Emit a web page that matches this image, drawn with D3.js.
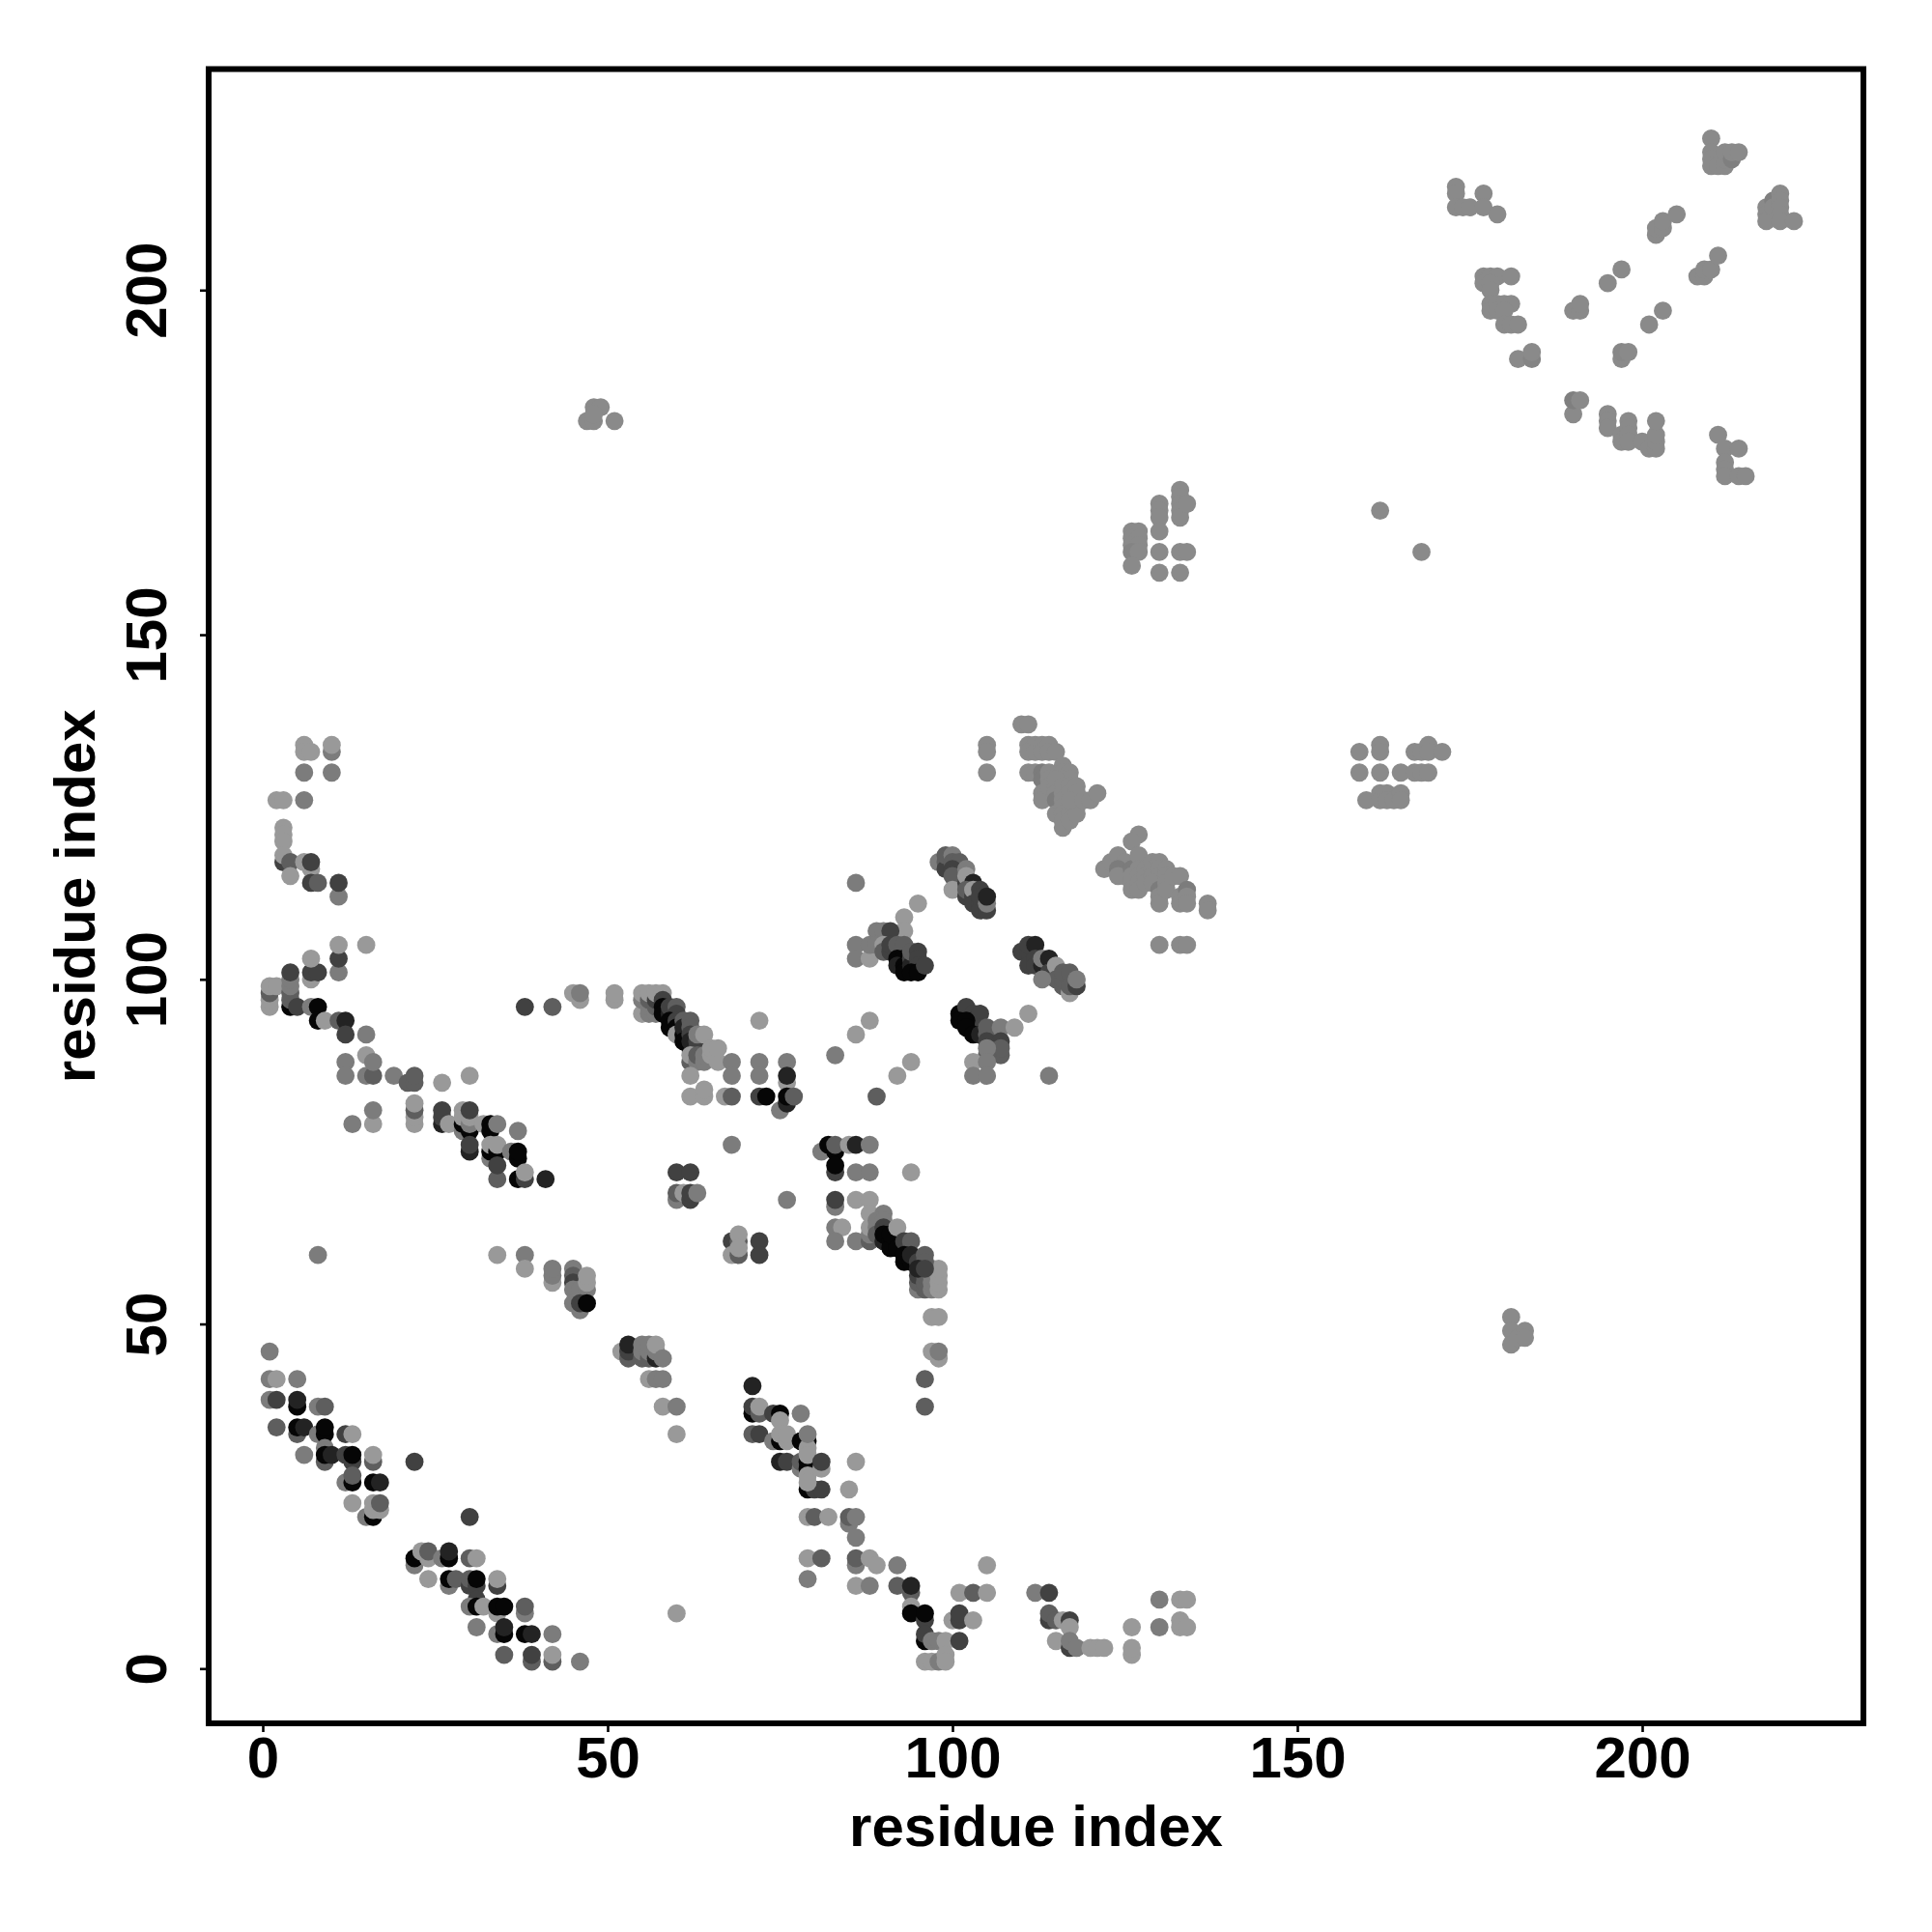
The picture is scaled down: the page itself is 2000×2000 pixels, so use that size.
<!DOCTYPE html>
<html><head><meta charset="utf-8">
<script src="https://cdn.jsdelivr.net/npm/d3@7"></script>
<style>html,body{margin:0;background:#fff}svg{display:block}</style></head>
<body><svg id="c" width="2000" height="2000"></svg>
<script>
// Each contact: [residue i, residue j, strength 0 (faint) .. 5 (strong)]
const helixLowA = [[1,46,1],[1,42,1],[2,42,0],[5,42,1],[1,39,1],[2,39,3],[5,38,5],[5,39,4],[8,38,1],[9,38,2],[2,35,2],[5,34,2],[5,35,5],[6,35,4],[8,34,1],[9,34,5],[9,35,5],[12,34,3],[13,34,0],[9,32,1],[6,31,1],[9,30,2],[9,31,5],[10,31,4],[12,31,3],[13,30,3],[13,31,5],[16,30,2],[16,31,0],[22,30,3],[12,27,1],[13,27,5],[13,28,2],[16,27,5],[17,27,4],[13,24,0],[15,22,1],[16,22,5],[16,23,0],[17,23,0],[16,24,0],[17,24,2],[30,22,3]];
const helixLowB = [[22,15,1],[22,16,5],[23,17,0],[24,16,0],[24,17,2],[24,13,0],[26,16,1],[27,16,5],[27,17,4],[30,16,2],[31,16,0],[27,12,1],[27,13,5],[28,13,2],[30,12,3],[30,13,2],[31,12,3],[31,13,5],[31,10,3],[30,9,1],[31,9,5],[32,9,0],[34,12,3],[34,13,0],[34,8,0],[34,9,5],[35,9,5],[38,8,1],[38,9,2],[31,6,1],[34,5,1],[35,5,5],[35,6,4],[38,5,5],[39,5,4],[42,5,1],[35,2,2],[39,1,2],[39,2,3],[42,1,2],[42,2,0],[46,1,1]];
const bandMid = [[8,60,1],[34,60,0],[38,60,1],[38,58,0],[42,56,0],[42,57,1],[42,58,1],[45,58,1],[45,57,2],[45,56,3],[45,55,1],[46,55,1],[47,55,1],[47,56,0],[47,57,0],[45,53,1],[46,52,1],[46,53,3],[47,53,5],[52,46,0],[53,45,2],[53,46,3],[53,47,4],[55,45,2],[55,46,1],[55,47,1],[56,45,2],[56,46,1],[56,47,1],[57,45,4],[57,46,1],[57,47,0],[58,45,1],[56,42,0],[57,42,1],[58,42,1],[58,38,0],[60,38,1],[60,34,0],[60,8,0]];
const islandB = [[68,62,3],[69,62,2],[69,63,0],[68,60,0],[69,60,2],[69,61,0],[72,62,3],[72,60,3],[60,72,3],[62,72,3],[60,68,1],[60,69,2],[61,69,0],[62,68,3],[62,69,3],[63,69,1],[68,76,1],[76,68,1]];
const sheetC = [[71,41,4],[71,37,5],[71,38,3],[72,37,2],[72,38,0],[74,37,3],[75,37,5],[75,36,0],[78,37,1],[71,34,2],[72,34,3],[74,33,1],[75,33,5],[75,34,0],[76,33,0],[76,34,0],[78,33,5],[79,33,5],[79,32,0],[79,34,1],[75,30,4],[76,30,3],[78,29,1],[78,30,2],[79,29,5],[79,30,5],[79,31,0],[79,28,0],[81,29,0],[81,30,3],[86,30,0],[79,26,5],[80,26,3],[81,26,3],[79,27,0],[85,26,0],[79,22,0],[80,22,2],[82,22,0],[85,21,1],[85,22,2],[86,22,1],[86,19,1],[79,16,0],[81,16,2],[79,13,1],[86,15,1],[86,16,2],[88,16,0],[89,15,0],[92,15,1],[86,12,0],[88,12,1],[92,12,2],[94,11,2],[94,12,4],[94,9,0],[94,8,5],[96,7,3],[96,8,5],[96,4,5],[96,5,3],[97,4,1],[98,4,1],[99,4,0],[101,4,3],[96,1,0],[97,1,0],[98,1,1],[99,2,0],[99,1,0],[101,11,0],[103,11,2],[105,11,0],[105,15,0],[100,7,0],[101,7,3],[101,8,3],[103,7,0],[112,11,1],[114,11,3],[114,7,3],[114,8,2],[115,7,2],[116,7,0],[117,7,3],[117,6,0],[115,4,0],[117,3,3],[117,4,1],[118,3,1],[120,3,0],[121,3,0],[122,3,0],[126,6,0],[126,2,0],[126,3,0],[130,10,1],[130,6,1],[133,10,0],[134,10,0],[133,7,0],[133,6,0],[134,6,0]];
const columnD = [[95,55,1],[95,56,2],[95,57,3],[96,55,2],[96,56,2],[96,57,2],[97,55,1],[97,56,1],[97,57,1],[97,58,1],[98,55,0],[98,56,0],[98,57,0],[98,58,0],[97,51,0],[98,51,0],[97,46,0],[98,45,0],[98,46,1],[96,42,2],[96,38,2]];
const topLeftE = [[6,134,0],[6,133,0],[7,133,0],[10,133,1],[10,134,0],[6,130,1],[10,130,1],[2,126,0],[3,126,0],[6,126,1],[3,122,0],[3,121,0],[3,120,0],[3,117,3],[3,118,0],[4,117,2],[4,115,0],[6,117,0],[7,116,0],[7,117,3],[7,114,3],[8,114,2],[11,112,1],[11,114,3]];
const leftF = [[1,96,0],[1,97,0],[1,98,2],[1,99,0],[2,99,0],[4,96,5],[4,97,2],[4,98,2],[4,99,1],[4,100,1],[4,101,3],[5,96,3],[7,100,0],[7,101,3],[8,101,3],[7,103,0],[11,101,1],[11,103,3],[11,105,0],[15,105,0],[7,96,1],[8,96,5],[8,94,5],[9,94,0],[11,94,2],[12,94,4],[12,92,3],[15,92,1],[12,88,1],[12,86,1],[15,86,1],[15,89,0],[16,86,2],[16,88,1],[19,86,1],[21,85,2],[22,85,2],[22,86,2],[26,85,0],[30,86,0]];
const sheetG = [[13,79,1],[16,79,0],[16,81,1],[22,79,0],[22,80,0],[22,81,2],[22,82,0],[26,79,4],[26,80,3],[26,81,3],[27,79,0],[29,78,1],[29,79,5],[29,80,0],[29,81,0],[30,78,5],[30,79,1],[30,80,0],[30,81,3],[30,75,4],[30,76,3],[32,79,0],[33,79,5],[33,78,5],[34,79,1],[37,78,1],[33,74,1],[33,75,5],[33,76,0],[34,75,5],[34,76,0],[36,75,1],[37,74,5],[37,75,5],[34,71,2],[34,73,3],[37,71,5],[38,71,3],[38,72,0],[41,71,4]];
const diagH = [[38,96,3],[42,96,2],[45,98,0],[46,97,0],[46,98,1],[51,97,0],[51,98,0]];
const strandI = [[55,95,0],[55,97,1],[55,98,0],[56,95,1],[56,96,1],[56,97,2],[56,98,0],[57,95,1],[57,96,2],[57,97,3],[57,98,0],[58,98,0],[58,97,3],[58,96,5],[58,95,5],[59,95,4],[59,96,3],[60,96,2],[60,95,3],[59,94,5],[59,93,5],[60,94,3],[60,93,5],[60,92,0],[61,92,5],[61,94,2],[61,93,4],[61,91,5],[62,90,5],[62,94,2],[62,93,2],[62,92,3],[62,91,4],[63,90,3],[63,91,3],[63,92,1],[64,92,0],[62,88,2],[62,89,0],[63,88,1],[63,89,2],[64,88,1],[64,89,1],[65,89,0],[65,90,0],[66,88,0],[66,90,0],[68,88,1],[68,86,1],[62,86,0],[62,83,0],[64,83,0],[64,84,0],[67,83,0],[68,83,2],[72,94,0],[72,88,1],[72,86,1],[72,83,3],[73,83,5],[76,88,1],[76,85,0],[76,86,4],[75,81,1],[76,82,4],[76,83,5],[77,83,2],[83,89,1],[86,92,0],[88,94,0],[89,83,2],[92,86,0],[94,88,0]];
const strandJ = [[81,75,1],[82,76,5],[83,75,5],[83,76,2],[85,76,0],[86,76,4],[88,76,1],[83,72,3],[83,73,5],[86,72,1],[88,72,1],[94,72,0],[83,67,1],[83,68,3],[86,68,0],[88,68,0],[83,64,1],[84,64,0],[83,62,1],[86,62,1],[88,66,0],[90,66,1],[88,62,2],[88,63,1],[88,64,0],[89,65,1],[89,64,1],[89,63,2],[90,65,1],[90,64,3],[90,62,4],[90,63,5],[91,62,5],[91,61,5],[91,63,5],[92,61,5],[92,64,0],[93,62,3],[94,62,2],[93,59,5],[93,60,5],[94,59,5],[94,60,4],[95,59,3],[96,60,2],[96,59,2],[95,58,4],[96,58,3]];
const clusterK = [[86,114,1],[95,111,0],[93,109,0],[93,107,0],[89,107,1],[90,107,1],[91,107,3],[86,105,1],[86,103,1],[88,103,0],[88,105,1],[89,105,1],[90,105,0],[90,104,2],[91,104,3],[91,105,3],[92,104,3],[92,105,2],[93,105,2],[92,103,5],[93,103,5],[92,102,4],[93,102,5],[93,101,5],[94,103,3],[94,102,4],[94,104,2],[95,104,3],[95,103,3],[95,102,3],[94,101,5],[95,101,5],[96,102,3]];
const clusterL = [[98,117,1],[99,117,2],[99,116,3],[99,118,2],[100,118,1],[100,117,2],[101,117,2],[101,116,2],[101,115,3],[100,116,3],[100,115,2],[100,113,0],[102,116,1],[102,114,3],[102,115,0],[103,114,4],[102,112,3],[102,113,2],[103,112,3],[103,113,0],[103,111,3],[104,111,3],[104,110,3],[104,113,3],[104,112,3],[105,110,3],[105,111,1],[105,112,4]];
const clusterM = [[110,104,3],[111,104,3],[111,105,3],[112,105,4],[111,102,3],[112,103,3],[112,102,3],[113,102,4],[113,103,1],[114,103,4],[114,101,3],[115,102,0],[115,100,2],[113,100,1],[116,99,2],[117,98,0],[116,100,2],[117,100,2],[117,99,2],[116,101,2],[117,101,2],[118,99,3],[118,100,1]];
const clusterN = [[101,95,5],[102,96,3],[103,95,3],[103,94,4],[104,95,3],[104,93,3],[101,94,5],[102,94,5],[102,93,5],[103,92,5],[104,92,4],[105,92,2],[105,93,2],[107,93,1],[109,93,0],[111,95,0],[105,91,3],[107,91,3],[107,89,2],[107,90,2],[105,89,2],[105,90,1],[103,88,0],[105,88,1],[103,86,1],[105,86,1],[114,86,1]];
const clusterO = [[110,137,0.5],[111,137,0.5],[105,134,0.5],[105,133,0.5],[105,130,0.5],[111,134,0.5],[112,134,0.5],[111,133,0.5],[112,133,0.5],[113,134,0.5],[113,133,0.5],[114,134,0.5],[114,133,0.5],[115,133,0.5],[111,130,0.5],[112,130,0.5],[113,130,1],[113,129,1],[113,127,0.5],[113,126,0.5],[114,130,0.5],[114,129,0.5],[114,128,0.5],[115,128,0.5],[116,131,0.5],[116,130,0.5],[117,130,0.5],[116,129,0.5],[117,129,0.5],[115,129,0.5],[115,127,0.5],[115,126,1],[115,124,0.5],[116,128,0.5],[116,127,0.5],[116,126,0.5],[117,128,0.5],[117,127,0.5],[118,128,0.5],[118,127,0.5],[116,125,0.5],[116,124,0.5],[116,123,0.5],[116,122,0.5],[117,125,0.5],[117,124,0.5],[117,123,0.5],[118,125,0.5],[118,124,0.5],[117,126,0.5],[119,126,0.5],[120,126,0.5],[121,127,0.5]];
const clusterP = [[127,121,0.5],[126,120,0.5],[122,116,0.5],[123,117,0.5],[124,118,0.5],[125,117,0.5],[125,116,0.5],[125,115,0.5],[124,116,1],[124,115,0.5],[126,116,1],[126,115,0.5],[126,114,0.5],[126,113,0.5],[127,118,0.5],[127,116,0.5],[127,115,0.5],[127,114,0.5],[127,113,0.5],[128,116,0.5],[128,115,0.5],[128,114,0.5],[129,117,0.5],[129,116,0.5],[129,115,0.5],[130,117,0.5],[130,116,0.5],[130,115,0.5],[129,114,0.5],[130,113,1],[130,112,0.5],[130,111,0.5],[131,116,0.5],[131,115,0.5],[131,114,0.5],[131,113,0.5],[132,115,0.5],[133,115,0.5],[133,112,0.5],[133,111,0.5],[134,113,1],[134,112,0.5],[134,111,0.5],[137,111,0.5],[137,110,0.5],[130,105,0.5],[133,105,0.5],[134,105,0.5]];
const farQ = [[133,171,0.5],[133,170,0.5],[133,169,0.5],[133,168,0.5],[133,167,0.5],[134,169,0.5],[130,169,0.5],[130,168,0.5],[130,167,0.5],[130,165,0.5],[126,165,0.5],[127,165,0.5],[126,164,0.5],[127,164,0.5],[126,163,0.5],[127,163,0.5],[126,162,0.7],[127,162,0.5],[126,160,0.5],[130,162,0.5],[133,162,0.5],[134,162,0.5],[130,159,0.5],[133,159,0.5],[162,168,0.5],[168,162,0.5],[159,133,0.5],[162,134,0.5],[162,133,0.5],[159,130,0.5],[162,130,0.5],[165,130,0.5],[167,133,0.5],[168,133,0.5],[169,134,0.5],[169,133,0.5],[171,133,0.5],[167,130,0.5],[168,130,0.5],[169,130,0.5],[160,126,0.5],[162,127,0.5],[162,126,0.5],[163,127,0.5],[163,126,0.5],[164,126,0.5],[165,127,0.5],[165,126,0.5],[47,181,0.5],[48,181,0.5],[48,183,0.5],[49,183,0.5],[48,182,0.5],[51,181,0.5],[181,51,0.5],[181,49,0.5],[181,47,0.5],[182,48,0.5],[183,49,0.5],[183,48,0.5]];
const farR = [[173,215,0.5],[173,214,0.5],[173,212,0.5],[174,212,0.5],[175,212,0.5],[177,214,0.5],[177,212,0.5],[179,211,0.5],[177,202,0.5],[178,202,0.5],[179,202,0.5],[181,202,0.5],[177,201,0.5],[178,201,0.5],[178,200,0.5],[178,198,0.5],[178,197,0.5],[179,198,0.5],[180,198,0.5],[181,198,0.5],[179,197,0.5],[180,197,0.5],[180,195,0.5],[181,195,0.5],[182,195,0.5],[182,190,0.5],[184,190,0.7],[184,191,0.5],[190,197,0.5],[191,197,0.5],[191,198,0.5],[195,201,0.5],[197,203,0.5],[197,190,0.5],[197,191,0.6],[198,191,0.5],[201,195,0.5],[203,197,0.5],[202,208,0.5],[202,209,0.5],[203,209,0.5],[203,210,0.5],[205,211,0.5],[208,202,0.5],[209,202,0.5],[209,203,0.5],[210,203,0.5],[211,205,0.5],[210,222,0.5],[210,220,0.5],[210,219,0.5],[210,218,0.5],[211,218,0.5],[212,218,0.5],[212,219,0.5],[212,220,0.5],[213,219,0.9],[213,220,0.5],[214,220,0.5],[218,212,0.5],[218,211,0.5],[218,210,0.5],[219,213,0.9],[219,212,0.5],[220,214,0.5],[220,213,0.5],[220,212,0.5],[220,211,0.5],[220,210,0.5],[222,210,0.5]];
const farS = [[190,182,0.5],[190,184,0.9],[191,184,0.5],[195,182,0.5],[195,181,0.5],[195,180,0.5],[197,179,0.5],[197,178,0.5],[198,181,0.5],[198,180,0.5],[198,179,0.5],[198,178,0.5],[200,178,0.5],[201,177,0.5],[202,177,0.5],[202,178,0.5],[202,179,0.5],[202,181,0.5],[211,179,0.5],[212,177,0.5],[214,177,0.5],[212,175,0.5],[212,174,0.5],[212,173,0.5],[214,173,0.5],[215,173,0.5]];
const contactGroups = [helixLowA, helixLowB, bandMid, islandB, sheetC, columnD, topLeftE, leftF, sheetG, diagH, strandI, strandJ, clusterK, clusterL, clusterM, clusterN, clusterO, clusterP, farQ, farR, farS];
const xTicks = [0, 50, 100, 150, 200];
const yTicks = [0, 50, 100, 150, 200];
const axisLabel = "residue index";

const x = d3.scaleLinear().domain([0, 200]).range([272, 1700]);
const y = d3.scaleLinear().domain([0, 200]).range([1727.3, 300.3]);
const shade = d3.scaleLinear().domain([0, 5]).range(["#999999", "#060606"]);
const frame = {l: 216, r: 1929, t: 71.5, b: 1784};
const font = "'Liberation Sans', Arial, sans-serif";
const svg = d3.select("#c");
svg.append("rect").attr("width", 2000).attr("height", 2000).attr("fill", "#fff");

svg.append("g").selectAll("circle").data(contactGroups.flat()).join("circle")
  .attr("cx", d => x(d[0])).attr("cy", d => y(d[1])).attr("r", 9.4)
  .attr("fill", d => shade(d[2]));

const ax = svg.append("g").attr("transform", `translate(0,${frame.b})`)
  .call(d3.axisBottom(x).tickValues(xTicks).tickSize(9).tickPadding(0));
ax.select(".domain").remove();
ax.selectAll("line").attr("stroke", "#000").attr("stroke-width", 2.6);
ax.selectAll("text").attr("y", 0).attr("dy", 0)
  .attr("transform", `translate(0,${1840 - frame.b})`)
  .attr("fill", "#000").style("font", `bold 60px ${font}`);

const ay = svg.append("g").attr("transform", `translate(${frame.l},0)`)
  .call(d3.axisLeft(y).tickValues(yTicks).tickSize(9).tickPadding(0));
ay.select(".domain").remove();
ay.selectAll("line").attr("stroke", "#000").attr("stroke-width", 2.6);
ay.selectAll("text").attr("x", 0).attr("dy", 0).attr("y", 0)
  .attr("text-anchor", "middle")
  .attr("transform", `translate(${172 - frame.l},0) rotate(-90)`)
  .attr("fill", "#000").style("font", `bold 60px ${font}`);

svg.append("rect").attr("x", frame.l).attr("y", frame.t)
  .attr("width", frame.r - frame.l).attr("height", frame.b - frame.t)
  .attr("fill", "none").attr("stroke", "#000").attr("stroke-width", 6);

svg.append("text").attr("x", (frame.l + frame.r) / 2).attr("y", 1911)
  .attr("text-anchor", "middle").style("font", `bold 60px ${font}`).text(axisLabel);
svg.append("text").attr("transform", `translate(98,${(frame.t + frame.b) / 2}) rotate(-90)`)
  .attr("text-anchor", "middle").style("font", `bold 60px ${font}`).text(axisLabel);
</script></body></html>
